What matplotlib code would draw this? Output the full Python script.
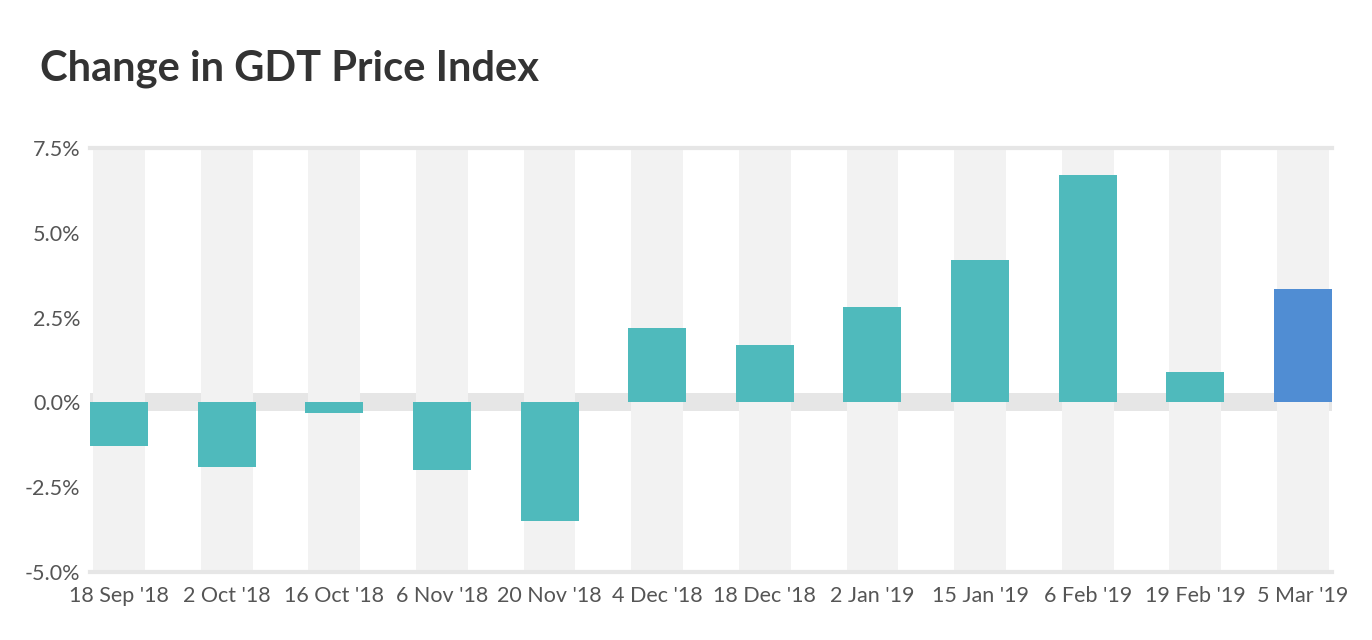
import matplotlib
matplotlib.use('Agg')
import matplotlib.pyplot as plt
import numpy as np

# data
dates = ["18 Sep '18", "2 Oct '18", "16 Oct '18", "6 Nov '18", "20 Nov '18",
         "4 Dec '18", "18 Dec '18", "2 Jan '19", "15 Jan '19", "6 Feb '19",
         "19 Feb '19", "5 Mar '19"]
change = [-1.3, -1.9, -0.3, -2.0, -3.5, 2.2, 1.7, 2.8, 4.2, 6.7, 0.9, 3.35]
y_ticks = [-5.0, -2.5, 0.0, 2.5, 5.0, 7.5]

teal = '#4fbabc'
blue = '#508dd3'

plt.rcParams['font.family'] = ['Lato', 'DejaVu Sans']

fig = plt.figure(figsize=(13.72, 6.4), dpi=100)
ax = fig.add_axes([90 / 1372, 1 - 572 / 640, 1242 / 1372, 424 / 640])

x = np.arange(len(dates))
bw = 0.54

# zero band and vertical stripes behind bars
ax.axhspan(-0.24, 0.29, color='#e6e6e6', lw=0, zorder=0)
for xi in x:
    ax.axvspan(xi - 0.24, xi + 0.24, color='#f2f2f2', lw=0, zorder=1)
ax.axhline(7.5, color='#e6e6e6', lw=3, zorder=2, clip_on=False)
ax.axhline(-5.0, color='#e6e6e6', lw=3, zorder=2, clip_on=False)

colors = [teal] * (len(dates) - 1) + [blue]
ax.bar(x, change, width=bw, color=colors, zorder=3)

ax.set_xlim(-bw / 2, len(dates) - 1 + bw / 2)
ax.set_ylim(-5, 7.5)
ax.set_yticks(y_ticks)
ax.set_yticklabels(['%.1f%%' % v for v in y_ticks])
ax.set_xticks(x)
ax.set_xticklabels(dates)
ax.tick_params(length=0, labelsize=15.5, labelcolor='#555555')
ax.tick_params(axis='y', pad=7)
ax.tick_params(axis='x', pad=10)
for s in ax.spines.values():
    s.set_visible(False)

fig.text(40 / 1372, 1 - 80 / 640, 'Change in GDT Price Index', fontsize=30,
         fontweight='bold', color='#333333', ha='left', va='baseline')

fig.savefig('out.png', dpi=100)
